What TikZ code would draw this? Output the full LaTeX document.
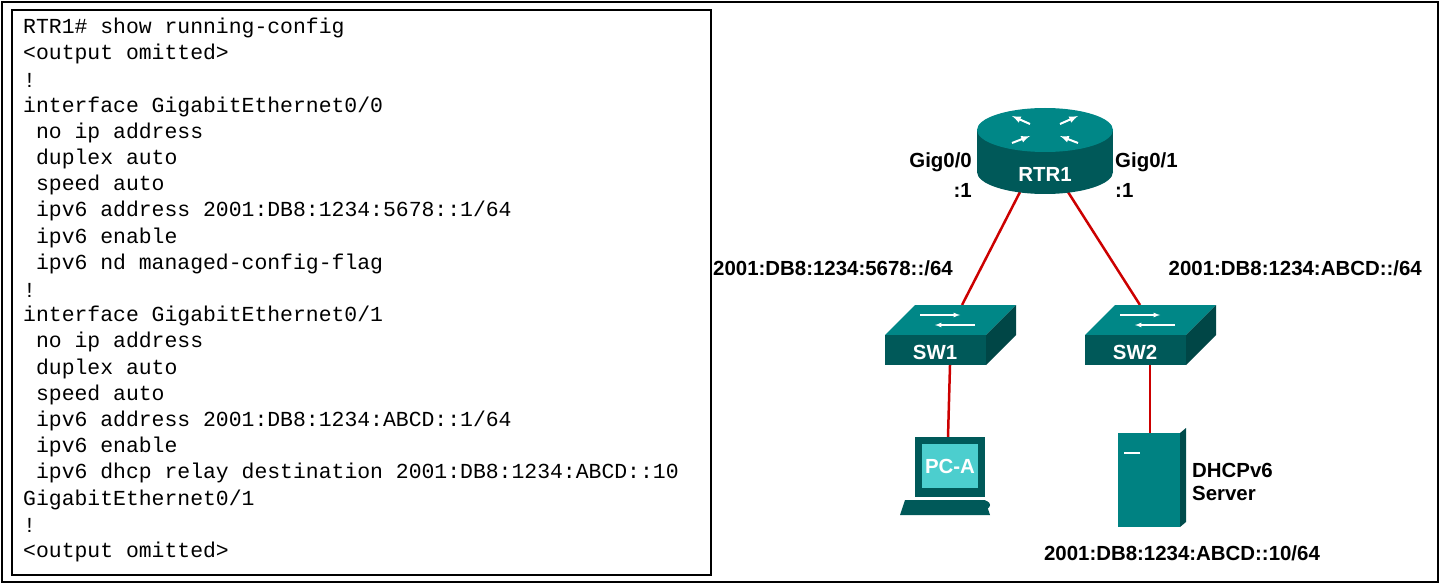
\documentclass[tikz,border=0pt]{standalone}
\usepackage{fontspec}
\setmainfont{Liberation Sans}
\newfontfamily\cour{Liberation Mono}
\begin{document}
\begin{tikzpicture}[x=1bp,y=-1bp,
  code/.style={anchor=west,font=\cour\fontsize{21.5}{24}\selectfont,inner sep=0},
  lbl/.style={font=\bfseries\fontsize{20.5}{24}\selectfont,inner sep=0},
  link/.style={draw=red!80!black,line width=2.5bp}]
\useasboundingbox (0,0) rectangle (1440,584);
\draw[line width=1.5bp] (2,2) rectangle (1438,582);
\draw[line width=1.5bp] (12,10) rectangle (711,575);
\foreach \t [count=\i from 0] in {
{RTR1\# show running-config},
{<output omitted>},
{!},
{interface GigabitEthernet0/0},
{ no ip address},
{ duplex auto},
{ speed auto},
{ ipv6 address 2001:DB8:1234:5678::1/64},
{ ipv6 enable},
{ ipv6 nd managed-config-flag},
{!},
{interface GigabitEthernet0/1},
{ no ip address},
{ duplex auto},
{ speed auto},
{ ipv6 address 2001:DB8:1234:ABCD::1/64},
{ ipv6 enable},
{ ipv6 dhcp relay destination 2001:DB8:1234:ABCD::10},
{GigabitEthernet0/1},
{!},
{<output omitted>}}
  \node[code] (l\i) at (23,{28+26.2*\i}) {\obeyspaces\t};
\draw[link] (1020,192) -- (962,305);
\draw[link] (1068,192) -- (1140,305);
\draw[link] (950,365) -- (948,437);
\draw[link] (1150,365) -- (1150,433);
% router
\fill[teal!70!black] (977,130) rectangle (1113,172);
\fill[teal!70!black] (1045,172) ellipse[x radius=68,y radius=22];
\fill[teal!75!cyan!85!black] (1045,130) ellipse[x radius=68,y radius=22];
\draw[white,line width=2bp,-latex] (1030,124)--(1012,116);
\draw[white,line width=2bp,-latex] (1060,124)--(1078,116);
\draw[white,line width=2bp,-latex] (1012,143)--(1030,136);
\draw[white,line width=2bp,-latex] (1078,143)--(1060,136);
\node[lbl,white] (rtrl) at (1045,174) {RTR1};
% switches
\foreach \x/\n in {950/SW1,1150/SW2}{
  \fill[teal!75!cyan!85!black] (\x-65,335) -- (\x-35,305) -- (\x+66,305) -- (\x+36,335) -- cycle;
  \fill[teal!70!black] (\x-65,335) rectangle (\x+36,365);
  \fill[teal!55!black] (\x+36,335) -- (\x+66,305) -- (\x+66,335) -- (\x+36,365) -- cycle;
  \draw[white,line width=1.2bp,-latex] (\x-30,315)--(\x+10,315);
  \draw[white,line width=1.2bp,-latex] (\x+25,325)--(\x-15,325);
  \node[lbl,white] at (\x-15,352) {\n};
}
% PC
\fill[teal!70!black] (915,437) rectangle (985,497);
\fill[teal!55!cyan!70!white] (922,444) rectangle (978,488);
\node[lbl,white] (pcl) at (950,466) {PC-A};
\fill[teal!70!black] (905,500) -- (985,500) -- (990,515) -- (900,515) -- cycle;
\fill[teal!70!black] (982,505) ellipse[x radius=8,y radius=5];
% server
\fill[teal!80!cyan!85!black] (1118,433) rectangle (1180,527);
\fill[teal!60!black] (1180,433) -- (1186,428) -- (1186,522) -- (1180,527) -- cycle;
\draw[white,line width=1.5bp] (1124,453)--(1140,453);
% labels
\node[lbl,anchor=east] at (972,162) {Gig0/0};
\node[lbl,anchor=east] at (972,190) {:1};
\node[lbl,anchor=west] at (1115,162) {Gig0/1};
\node[lbl,anchor=west] at (1115,190) {:1};
\node[lbl,anchor=west] at (713,268) {2001:DB8:1234:5678::/64};
\node[lbl,anchor=east] at (1422,268) {2001:DB8:1234:ABCD::/64};
\node[lbl,anchor=west,align=left] at (1192,482) {DHCPv6\\Server};
\node[lbl] at (1182,553) {2001:DB8:1234:ABCD::10/64};
\end{tikzpicture}
\end{document}
